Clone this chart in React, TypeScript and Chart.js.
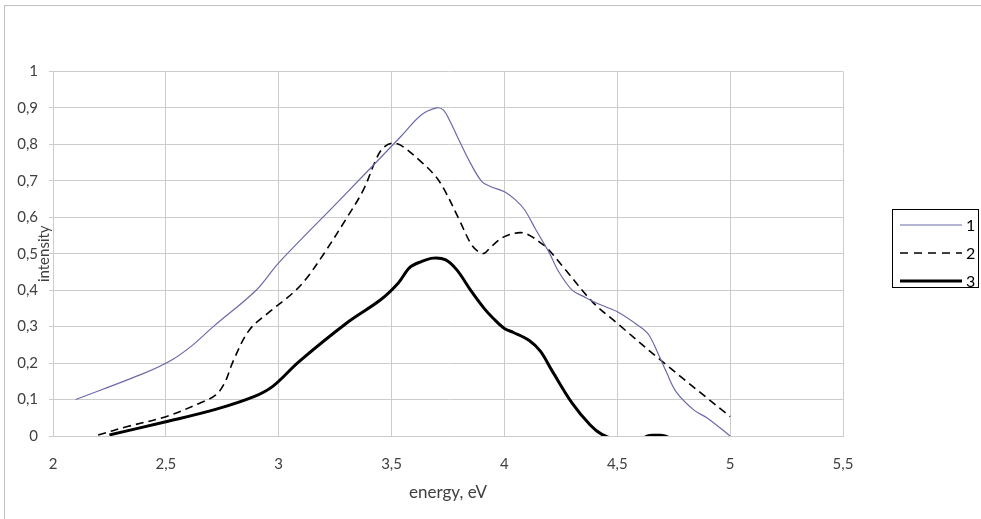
import React, { useEffect, useRef } from 'react';
import { Chart, registerables } from 'chart.js';

Chart.register(...registerables);

// ---------- data ----------
const SERIES_NAMES = ['1', '2', '3'];

const S1_X = [2.1, 2.41, 2.53, 2.62, 2.71, 2.9, 3.0, 3.27, 3.54, 3.63, 3.7, 3.73, 3.76, 3.8, 3.85, 3.9, 3.94, 4.0, 4.05, 4.09, 4.14, 4.2, 4.24, 4.3, 4.35, 4.41, 4.5, 4.6, 4.64, 4.68, 4.72, 4.76, 4.84, 4.9, 5.0];
const S1_Y = [0.1, 0.174, 0.21, 0.25, 0.3, 0.4, 0.475, 0.647, 0.821, 0.88, 0.9, 0.894, 0.862, 0.81, 0.748, 0.698, 0.684, 0.67, 0.647, 0.62, 0.565, 0.501, 0.451, 0.4, 0.383, 0.364, 0.341, 0.3, 0.277, 0.227, 0.172, 0.122, 0.071, 0.049, 0.0];

const S2_X = [2.2, 2.33, 2.5, 2.65, 2.72, 2.76, 2.8, 2.87, 2.96, 3.06, 3.12, 3.2, 3.3, 3.375, 3.43, 3.46, 3.5, 3.54, 3.63, 3.69, 3.73, 3.8, 3.85, 3.88, 3.91, 3.94, 4.0, 4.07, 4.11, 4.16, 4.19, 4.26, 4.39, 4.5, 4.7, 5.0];
const S2_Y = [0.003, 0.026, 0.053, 0.09, 0.112, 0.145, 0.208, 0.291, 0.341, 0.391, 0.43, 0.5, 0.597, 0.675, 0.757, 0.789, 0.803, 0.798, 0.753, 0.716, 0.68, 0.593, 0.529, 0.508, 0.501, 0.519, 0.547, 0.558, 0.551, 0.53, 0.515, 0.464, 0.368, 0.309, 0.204, 0.053];

const S3_X = [2.25, 2.5, 2.72, 2.89, 2.975, 3.09, 3.31, 3.45, 3.53, 3.58, 3.63, 3.685, 3.74, 3.79, 3.85, 3.91, 3.95, 4.0, 4.04, 4.11, 4.16, 4.21, 4.3, 4.38, 4.43, 4.5, 4.6, 4.635, 4.66, 4.69, 4.71, 4.75];
const S3_Y = [0.003, 0.039, 0.073, 0.108, 0.137, 0.204, 0.314, 0.373, 0.42, 0.462, 0.478, 0.488, 0.483, 0.455, 0.4, 0.35, 0.323, 0.295, 0.284, 0.262, 0.232, 0.18, 0.09, 0.03, 0.005, -0.01, -0.01, 0.0, 0.002, 0.002, 0.0, -0.01];

const X_TICK_LABELS = ['2', '2,5', '3', '3,5', '4', '4,5', '5', '5,5'];
const Y_TICK_LABELS = ['0', '0,1', '0,2', '0,3', '0,4', '0,5', '0,6', '0,7', '0,8', '0,9', '1'];
const X_TITLE = 'energy, eV';
const Y_TITLE = 'intensity';

// ---------- styles ----------
const FONT = 'Lato, "Open Sans", sans-serif';
const TEXT_COLOR = '#404040';
const GRID_COLOR = '#cccccc';

const toPoints = (xs: number[], ys: number[]) => xs.map((x, i) => ({ x, y: ys[i] }));

const legendPlugin = {
  id: 'excelLegend',
  afterDraw(chart: any) {
    const ctx = chart.ctx as CanvasRenderingContext2D;
    ctx.save();
    ctx.strokeStyle = '#000000';
    ctx.lineWidth = 1;
    ctx.setLineDash([]);
    ctx.strokeRect(892.5, 209.5, 86, 78);
    const rows = [225, 253, 281];
    chart.data.datasets.forEach((ds: any, i: number) => {
      const y = rows[i];
      ctx.beginPath();
      ctx.setLineDash(ds.borderDash && ds.borderDash.length ? [8, 6] : []);
      ctx.strokeStyle = ds.borderColor;
      ctx.lineWidth = ds.borderWidth;
      ctx.moveTo(900, y);
      ctx.lineTo(962, y);
      ctx.stroke();
      ctx.setLineDash([]);
      ctx.fillStyle = '#000000';
      ctx.font = `16px ${FONT}`;
      ctx.textBaseline = 'middle';
      ctx.textAlign = 'left';
      ctx.fillText(ds.label, 966, y + 0.5);
    });
    ctx.restore();
  },
};

export default function App() {
  const canvasRef = useRef<HTMLCanvasElement | null>(null);

  useEffect(() => {
    const canvas = canvasRef.current;
    if (!canvas) return;
    const tickFont = { family: FONT, size: 15 };
    const chart = new Chart(canvas, {
      type: 'line',
      data: {
        datasets: [
          {
            label: SERIES_NAMES[0],
            data: toPoints(S1_X, S1_Y),
            borderColor: '#6a6aaa',
            borderWidth: 1.2,
            tension: 0.35,
            pointRadius: 0,
            fill: false,
            clip: 0,
          },
          {
            label: SERIES_NAMES[1],
            data: toPoints(S2_X, S2_Y),
            borderColor: '#000000',
            borderWidth: 1.6,
            borderDash: [8, 5],
            tension: 0.35,
            pointRadius: 0,
            fill: false,
            clip: 0,
          },
          {
            label: SERIES_NAMES[2],
            data: toPoints(S3_X, S3_Y),
            borderColor: '#000000',
            borderWidth: 3,
            tension: 0.35,
            pointRadius: 0,
            fill: false,
            clip: 0,
          },
        ],
      } as any,
      options: {
        animation: false,
        responsive: false,
        maintainAspectRatio: false,
        layout: { padding: { left: 0, top: 71.5, right: 138, bottom: 0 } },
        plugins: {
          legend: { display: false },
          tooltip: { enabled: false },
        },
        scales: {
          x: {
            type: 'linear',
            min: 2,
            max: 5.5,
            ticks: {
              stepSize: 0.5,
              autoSkip: false,
              maxRotation: 0,
              padding: 19,
              color: TEXT_COLOR,
              font: tickFont,
              callback: (v: any) => X_TICK_LABELS[Math.round((Number(v) - 2) / 0.5)] ?? '',
            },
            grid: { color: GRID_COLOR, drawTicks: false },
            border: { color: GRID_COLOR },
            title: {
              display: true,
              text: X_TITLE,
              color: TEXT_COLOR,
              font: { family: FONT, size: 17 },
              padding: { top: 0, bottom: 16 },
            },
            afterFit: (s: any) => {
              s.height = 83;
            },
          },
          y: {
            type: 'linear',
            min: 0,
            max: 1,
            ticks: {
              stepSize: 0.1,
              padding: 11,
              color: TEXT_COLOR,
              font: tickFont,
              callback: (v: any) => Y_TICK_LABELS[Math.round(Number(v) / 0.1)] ?? '',
            },
            grid: { color: GRID_COLOR, tickLength: 4 },
            border: { color: GRID_COLOR },
            title: {
              display: true,
              text: Y_TITLE,
              color: TEXT_COLOR,
              font: { family: FONT, size: 15 },
              padding: { top: 35, bottom: 0 },
            },
            afterFit: (s: any) => {
              s.width = 53;
            },
          },
        },
      } as any,
      plugins: [legendPlugin],
    });
    return () => chart.destroy();
  }, []);

  return (
    <div style={{ position: 'absolute', left: 0, top: 0, width: 981, height: 519, background: '#ffffff', overflow: 'hidden' }}>
      <div
        style={{
          position: 'absolute',
          left: 4,
          top: 5,
          width: 990,
          height: 530,
          borderLeft: '1px solid #bfbfbf',
          borderTop: '1px solid #bfbfbf',
          pointerEvents: 'none',
        }}
      />
      <canvas ref={canvasRef} width={981} height={519} style={{ position: 'absolute', left: 0, top: 0 }} />
    </div>
  );
}
